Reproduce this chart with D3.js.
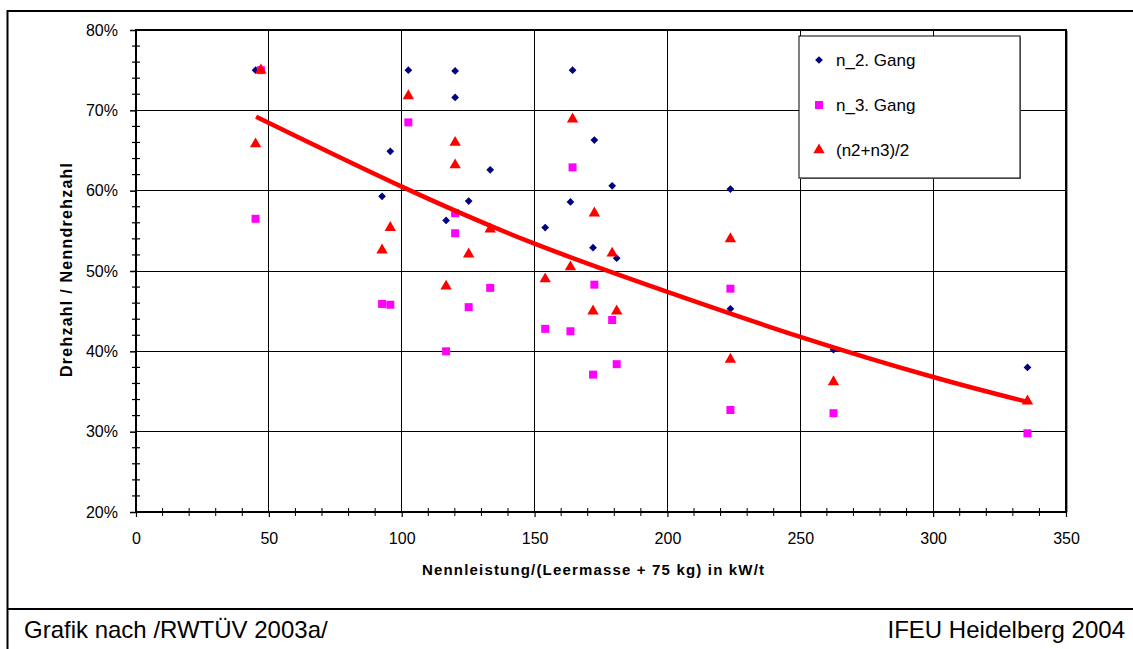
<!DOCTYPE html>
<html>
<head>
<meta charset="utf-8">
<script src="https://cdn.jsdelivr.net/npm/d3@7"></script>
<style>
  body { margin: 0; background: #fff; }
  svg { display: block; font-family: "Liberation Sans", Arial, sans-serif; }
</style>
</head>
<body>
<svg width="1133" height="649"></svg>
<script>
// values
var vehicleX = [45.0, 47.0, 92.6, 95.7, 102.5, 116.7, 120.1, 120.1, 125.2, 133.3, 154.0,
                163.5, 164.3, 172.0, 172.5, 179.2, 180.9, 223.7, 223.7, 262.5, 335.5];
var n2 = [75.0, 75.0, 59.3, 64.9, 75.0, 56.3, 74.9, 71.6, 58.7, 62.6, 55.4,
          58.6, 75.0, 52.9, 66.3, 60.6, 51.6, 60.2, 45.3, 40.2, 38.0];
var n3 = [56.5, 75.0, 45.9, 45.8, 68.5, 40.0, 57.2, 54.7, 45.5, 47.9, 42.8,
          42.5, 62.9, 37.1, 48.3, 43.9, 38.4, 47.8, 32.7, 32.3, 29.8];
var nAvg = [65.8, 75.0, 52.6, 55.4, 71.8, 48.1, 66.0, 63.2, 52.1, 55.2, 49.0,
            50.5, 68.9, 45.0, 57.2, 52.2, 45.0, 54.0, 39.0, 36.2, 33.8];
// trend line
var trendX = [45.2, 100, 150, 200, 250, 300, 335.5];
var trendY = [69.2, 60.5, 53.4, 47.4, 41.8, 36.8, 33.7];

var xTicks = [0, 50, 100, 150, 200, 250, 300, 350];
var yTicks = [20, 30, 40, 50, 60, 70, 80];
var seriesNames = ["n_2. Gang", "n_3. Gang", "(n2+n3)/2"];

var svg = d3.select("svg");

var x = d3.scaleLinear().domain([0, 350]).range([136, 1066]);
var y = d3.scaleLinear().domain([20, 80]).range([512, 30]);

// outer frame + footer
svg.append("path")
  .attr("d", "M7.5,649 V11 H1134")
  .attr("fill", "none").attr("stroke", "#000").attr("stroke-width", 2);
svg.append("line")
  .attr("x1", 7.5).attr("x2", 1133).attr("y1", 609).attr("y2", 609)
  .attr("stroke", "#000").attr("stroke-width", 2);
svg.append("text").attr("x", 24).attr("y", 638)
  .attr("font-size", 24).text("Grafik nach /RWTÜV 2003a/");
svg.append("text").attr("x", 1125).attr("y", 638)
  .attr("font-size", 24).attr("text-anchor", "end").text("IFEU Heidelberg 2004");

// grid
var grid = svg.append("g").attr("stroke", "#000").attr("stroke-width", 1)
  .attr("shape-rendering", "crispEdges");
grid.selectAll(".gx").data(xTicks.slice(1, -1)).enter().append("line")
  .attr("x1", d => x(d)).attr("x2", d => x(d))
  .attr("y1", y(20)).attr("y2", y(80));
grid.selectAll(".gy").data(yTicks.slice(1, -1)).enter().append("line")
  .attr("x1", x(0)).attr("x2", x(350))
  .attr("y1", d => y(d)).attr("y2", d => y(d));

// plot border
svg.append("rect")
  .attr("x", x(0)).attr("y", y(80))
  .attr("width", x(350) - x(0)).attr("height", y(20) - y(80))
  .attr("fill", "none").attr("stroke", "#000").attr("stroke-width", 2);
svg.append("line")
  .attr("x1", x(350) + 1.5).attr("x2", x(350) + 1.5)
  .attr("y1", y(80) + 1).attr("y2", y(20))
  .attr("stroke", "#999").attr("stroke-width", 1);

// y axis
var yAxis = svg.append("g").attr("transform", "translate(" + x(0) + ",0)")
  .call(d3.axisLeft(y).tickValues(yTicks).tickSize(6).tickPadding(12)
    .tickFormat(d => d + "%"));
yAxis.select(".domain").remove();
yAxis.selectAll("line").attr("stroke", "#000").attr("stroke-width", 1.5);
yAxis.selectAll("text").attr("font-size", 16).attr("fill", "#000")
  .attr("font-family", "Liberation Sans, Arial, sans-serif");
svg.append("g").selectAll("line")
  .data(d3.range(22, 80, 2).filter(v => v % 10 !== 0))
  .enter().append("line")
  .attr("x1", x(0) - 4).attr("x2", x(0) + 4)
  .attr("y1", d => y(d)).attr("y2", d => y(d))
  .attr("stroke", "#000").attr("stroke-width", 1.2);

// x axis
var xAxis = svg.append("g").attr("transform", "translate(0," + y(20) + ")")
  .call(d3.axisBottom(x).tickValues(xTicks).tickSize(5).tickPadding(16));
xAxis.select(".domain").remove();
xAxis.selectAll("line").attr("stroke", "#000").attr("stroke-width", 1.2);
xAxis.selectAll("text").attr("font-size", 16).attr("fill", "#000")
  .attr("font-family", "Liberation Sans, Arial, sans-serif");
svg.append("g").selectAll("line")
  .data(d3.range(10, 350, 10).filter(v => v % 50 !== 0))
  .enter().append("line")
  .attr("x1", d => x(d)).attr("x2", d => x(d))
  .attr("y1", y(20) - 4).attr("y2", y(20) + 4)
  .attr("stroke", "#000").attr("stroke-width", 1);

// axis titles
svg.append("text")
  .attr("x", 593).attr("y", 575)
  .attr("text-anchor", "middle").attr("font-weight", "bold").attr("font-size", 15)
  .attr("textLength", 342).attr("lengthAdjust", "spacing")
  .text("Nennleistung/(Leermasse + 75 kg) in kW/t");
svg.append("text")
  .attr("transform", "translate(72,270) rotate(-90)")
  .attr("text-anchor", "middle").attr("font-weight", "bold").attr("font-size", 16)
  .attr("textLength", 214).attr("lengthAdjust", "spacing")
  .text("Drehzahl / Nenndrehzahl");

// markers
var diamond = d3.symbol(d3.symbolSquare, 30);
var square = d3.symbol(d3.symbolSquare, 64);
var triangle = d3.symbol(d3.symbolTriangle, 56);

svg.append("g").selectAll("path").data(vehicleX).enter().append("path")
  .attr("d", diamond)
  .attr("transform", (d, i) => "translate(" + x(d) + "," + y(n2[i]) + ") rotate(45)")
  .attr("fill", "#000080");
svg.append("g").selectAll("path").data(vehicleX).enter().append("path")
  .attr("d", square)
  .attr("transform", (d, i) => "translate(" + x(d) + "," + y(n3[i]) + ")")
  .attr("fill", "#ff00ff");
svg.append("g").selectAll("path").data(vehicleX).enter().append("path")
  .attr("d", triangle)
  .attr("transform", (d, i) => "translate(" + x(d) + "," + y(nAvg[i]) + ")")
  .attr("fill", "#ff0000");

// trend line
var line = d3.line()
  .x((d, i) => x(d))
  .y((d, i) => y(trendY[i]))
  .curve(d3.curveNatural);
svg.append("path").datum(trendX)
  .attr("d", line)
  .attr("fill", "none").attr("stroke", "#ff0000").attr("stroke-width", 4.5);

// legend
var lg = svg.append("g").attr("transform", "translate(799,36)");
lg.append("rect").attr("x", 1).attr("y", 1).attr("width", 221).attr("height", 142)
  .attr("fill", "#888");
lg.append("rect").attr("width", 221).attr("height", 142)
  .attr("fill", "#fff").attr("stroke", "#000").attr("stroke-width", 1);
var items = lg.selectAll(".item").data(seriesNames).enter().append("g")
  .attr("transform", (d, i) => "translate(20," + (24 + i * 45) + ")");
items.append("path")
  .attr("d", (d, i) => [diamond, square, triangle][i]())
  .attr("transform", (d, i) => i === 0 ? "rotate(45)" : null)
  .attr("fill", (d, i) => ["#000080", "#ff00ff", "#ff0000"][i]);
items.append("text")
  .attr("x", 17).attr("y", 6)
  .attr("font-size", 17)
  .text(d => d);
</script>
</body>
</html>
